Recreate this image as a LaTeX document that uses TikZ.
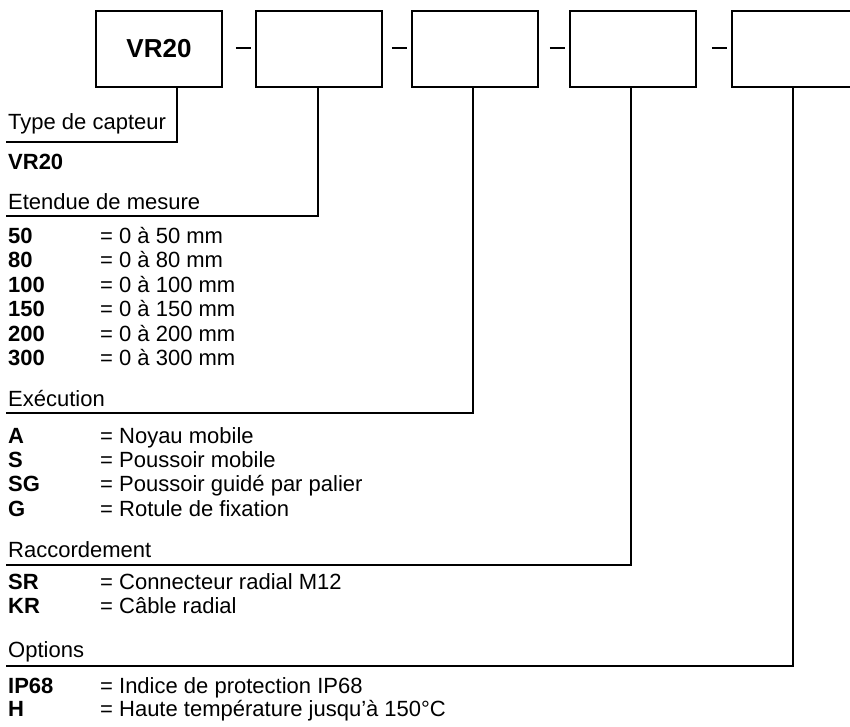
\documentclass[tikz,border=0pt]{standalone}
\usepackage{fontspec}
\setmainfont{Liberation Sans}
\usepackage{tikz}

\tikzset{
  cell/.style={draw,line width=2.2pt,minimum width=126pt,minimum height=76pt,inner sep=0pt,font=\fontsize{26}{30}\selectfont\bfseries},
  lbl/.style={anchor=base west,inner sep=0pt,font=\fontsize{22}{26}\selectfont},
  key/.style={lbl,font=\fontsize{22}{26}\selectfont\bfseries},
  rule/.style={line width=2.2pt}
}

\begin{document}
\begin{tikzpicture}[x=1pt,y=-1pt]
\useasboundingbox (0,0) rectangle (850,727);
% code boxes
\node [cell] (b1) at (159,49) {VR20};
\node [cell] (b2) at (319,49) {};
\node [cell] (b3) at (475,49) {};
\node [cell] (b4) at (633,49) {};
\node [cell] (b5) at (795,49) {};
\foreach \b in {b2,b3,b4,b5}
  \draw [rule] ([xshift=-19pt,yshift=1pt]\b.west) -- ([xshift=-4pt,yshift=1pt]\b.west);

% headings
\node [lbl] (typ) at (8,130) {Type de capteur};
\node [key] (vr) at (8,170) {VR20};
\node [lbl] (eten) at (8,210) {Etendue de mesure};
\node [lbl] (exec) at (8,406) {Exécution};
\node [lbl] (racc) at (8,557) {Raccordement};
\node [lbl] (opt) at (8,657) {Options};

% codes
\foreach \k/\v/\y in {50/0 à 50 mm/243, 80/0 à 80 mm/267, 100/0 à 100 mm/292,
    150/0 à 150 mm/316, 200/0 à 200 mm/341, 300/0 à 300 mm/365,
    A/Noyau mobile/443, S/Poussoir mobile/467, SG/Poussoir guidé par palier/491,
    G/Rotule de fixation/516, SR/Connecteur radial M12/589, KR/Câble radial/613,
    IP68/Indice de protection IP68/693, H/Haute température jusqu’à 150°C/716}
{
  \node [key] (k\k) at (8,\y) {\k};
  \node [lbl] (v\k) at (100,\y) {= \v};
}

% leader lines
\coordinate (c1) at (177,142); \coordinate (e1) at (6,142);
\coordinate (c2) at (318,216); \coordinate (e2) at (6,216);
\coordinate (c3) at (473,413); \coordinate (e3) at (6,413);
\coordinate (c4) at (631,565); \coordinate (e4) at (6,565);
\coordinate (c5) at (793,666); \coordinate (e5) at (6,666);
\draw [rule] (b1.south -| c1) -- (c1) -- (e1);
\draw [rule] (b2.south -| c2) -- (c2) -- (e2);
\draw [rule] (b3.south -| c3) -- (c3) -- (e3);
\draw [rule] (b4.south -| c4) -- (c4) -- (e4);
\draw [rule] (b5.south -| c5) -- (c5) -- (e5);
\end{tikzpicture}
\end{document}
